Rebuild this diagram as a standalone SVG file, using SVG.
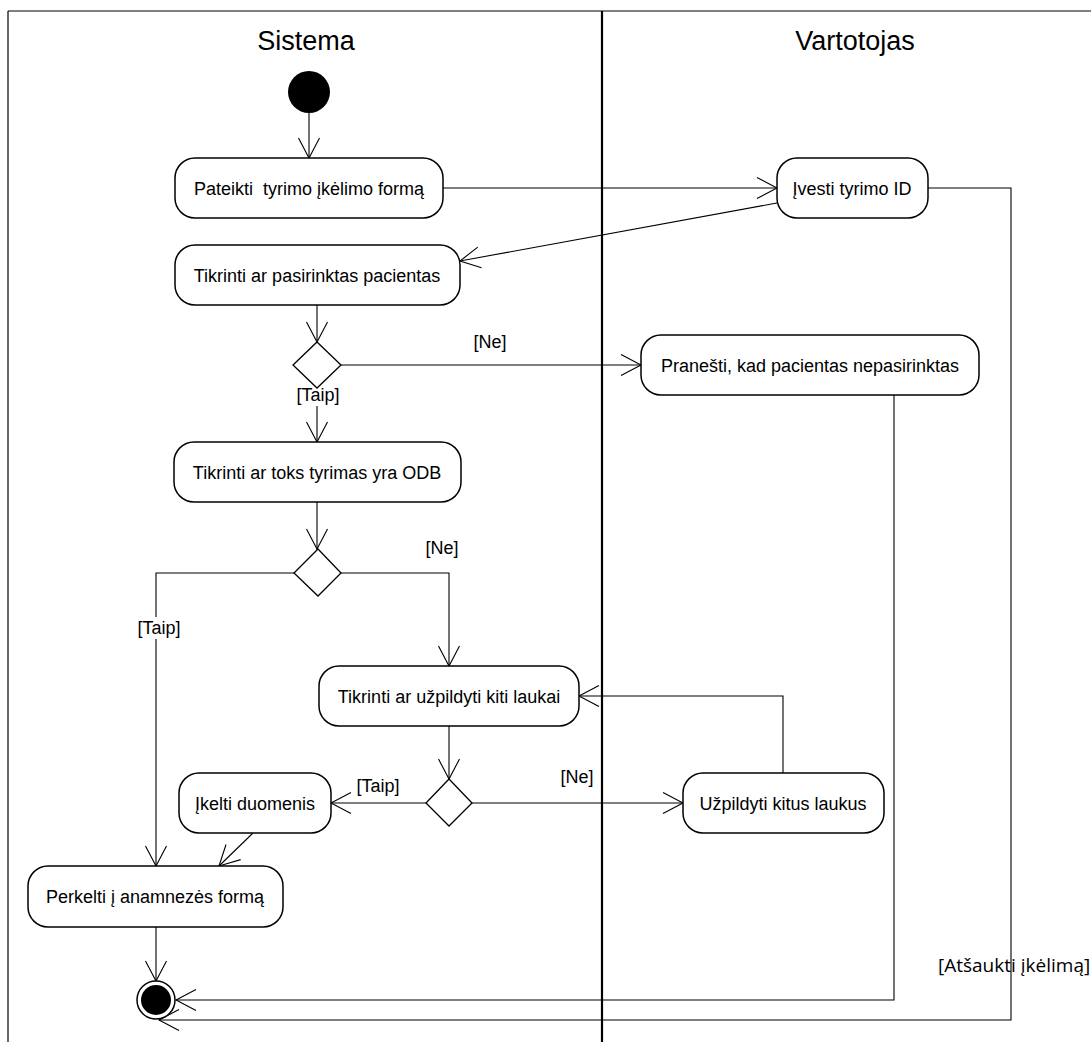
<svg xmlns="http://www.w3.org/2000/svg" width="1091" height="1042" viewBox="0 0 1091 1042">
  <style>
    .lane { stroke: #000; stroke-width: 1.2; fill: none; }
    .divider { stroke: #000; stroke-width: 2.2; fill: none; }
    .title { font-family: "Liberation Sans", Arial, sans-serif; font-size: 27px; fill: #000; text-anchor: middle; }
    .act rect { fill: #fff; stroke: #000; stroke-width: 1.5; }
    .act text { font-family: "Liberation Sans", Arial, sans-serif; font-size: 18px; fill: #000; text-anchor: middle; }
    .dec polygon { fill: #fff; stroke: #000; stroke-width: 1.3; }
    .edge { stroke: #000; stroke-width: 1.1; fill: none; marker-end: url(#open); }
    .guard { font-family: "Liberation Sans", Arial, sans-serif; font-size: 18px; fill: #000; text-anchor: middle; }
    .guard2 { font-family: "Open Sans", "DejaVu Sans", sans-serif; font-size: 19px; fill: #000; }
    .bg { fill: #fff; }
  </style>
  <defs>
    <marker id="open" markerUnits="userSpaceOnUse" markerWidth="24" markerHeight="26" viewBox="-22 -13 24 26" refX="0" refY="0" orient="auto">
      <path d="M -20,-10.5 L 0,0 L -20,10.5" fill="none" stroke="#000" stroke-width="1.1"/>
    </marker>
  </defs>

  <!-- swimlane frame -->
  <g id="lanes">
    <line class="lane" x1="8" y1="11" x2="1091" y2="11"/>
    <line class="lane" x1="8" y1="11" x2="8" y2="1042"/>
    <line class="divider" x1="602" y1="11" x2="602" y2="1042"/>
    <text class="title" x="306" y="50">Sistema</text>
    <text class="title" x="855" y="50">Vartotojas</text>
  </g>

  <!-- connectors -->
  <g id="connectors">
    <line class="edge" x1="309" y1="113" x2="309" y2="158"/>
    <line class="edge" x1="443" y1="188" x2="777" y2="188"/>
    <line class="edge" x1="777" y1="203" x2="460" y2="261"/>
    <line class="edge" x1="317" y1="305" x2="317" y2="342"/>
    <line class="edge" x1="341" y1="365" x2="641" y2="365"/>
    <line class="edge" x1="317" y1="388" x2="317" y2="442"/>
    <line class="edge" x1="317" y1="502" x2="317" y2="549"/>
    <polyline class="edge" points="294,573 156,573 156,866"/>
    <polyline class="edge" points="341,573 449,573 449,666"/>
    <line class="edge" x1="449" y1="726" x2="449" y2="779"/>
    <line class="edge" x1="426" y1="803" x2="331" y2="803"/>
    <line class="edge" x1="472" y1="803" x2="683" y2="803"/>
    <polyline class="edge" points="783,773 783,696 579,696"/>
    <line class="edge" x1="253" y1="833" x2="219" y2="866"/>
    <line class="edge" x1="156" y1="927" x2="156" y2="981"/>
    <polyline class="edge" points="894,395 894,1000 176,1000"/>
    <polyline class="edge" points="928,188 1011,188 1011,1020 159,1020"/>

    <!-- guard labels -->
    <text class="guard" x="490" y="348">[Ne]</text>
    <rect class="bg" x="292" y="384" width="52" height="22"/>
    <text class="guard" x="318" y="401">[Taip]</text>
    <text class="guard" x="442" y="554">[Ne]</text>
    <rect class="bg" x="131" y="617" width="54" height="22"/>
    <text class="guard" x="159" y="634">[Taip]</text>
    <text class="guard" x="378" y="792">[Taip]</text>
    <text class="guard" x="577" y="783">[Ne]</text>
    <text class="guard2" x="938" y="972">[Atšaukti įkėlimą]</text>
  </g>

  <!-- nodes -->
  <g id="start">
    <circle cx="309" cy="92" r="21" fill="#000"/>
  </g>
  <g id="pateikti" class="act">
    <rect x="175" y="158" width="268" height="60" rx="20"/>
    <text x="309" y="194.5" xml:space="preserve">Pateikti  tyrimo įkėlimo formą</text>
  </g>
  <g id="ivesti" class="act">
    <rect x="777" y="158" width="151" height="60" rx="20"/>
    <text x="852" y="194.5">Įvesti tyrimo ID</text>
  </g>
  <g id="tikrinti-pacientas" class="act">
    <rect x="175" y="245" width="285" height="60" rx="20"/>
    <text x="317" y="281.5">Tikrinti ar pasirinktas pacientas</text>
  </g>
  <g id="dec-pacientas" class="dec">
    <polygon points="317,342 341,365 317,388 293,365"/>
  </g>
  <g id="pranesti" class="act">
    <rect x="641" y="335" width="338" height="60" rx="20"/>
    <text x="810" y="371.5">Pranešti, kad pacientas nepasirinktas</text>
  </g>
  <g id="tikrinti-odb" class="act">
    <rect x="174" y="442" width="287" height="60" rx="20"/>
    <text x="317" y="478.5">Tikrinti ar toks tyrimas yra ODB</text>
  </g>
  <g id="dec-odb" class="dec">
    <polygon points="318,549 341,573 318,596 294,573"/>
  </g>
  <g id="tikrinti-laukai" class="act">
    <rect x="319" y="666" width="260" height="60" rx="20"/>
    <text x="449" y="702.5">Tikrinti ar užpildyti kiti laukai</text>
  </g>
  <g id="dec-laukai" class="dec">
    <polygon points="449,779 472,803 449,826 426,803"/>
  </g>
  <g id="ikelti" class="act">
    <rect x="179" y="773" width="152" height="60" rx="20"/>
    <text x="255" y="809.5">Įkelti duomenis</text>
  </g>
  <g id="uzpildyti" class="act">
    <rect x="683" y="773" width="201" height="60" rx="20"/>
    <text x="783" y="809.5">Užpildyti kitus laukus</text>
  </g>
  <g id="perkelti" class="act">
    <rect x="28" y="866" width="255" height="61" rx="20"/>
    <text x="155" y="903">Perkelti į anamnezės formą</text>
  </g>
  <g id="end">
    <circle cx="156" cy="1000" r="19" fill="#fff" stroke="#000" stroke-width="1.5"/>
    <circle cx="156" cy="1000" r="15" fill="#000"/>
  </g>
</svg>
